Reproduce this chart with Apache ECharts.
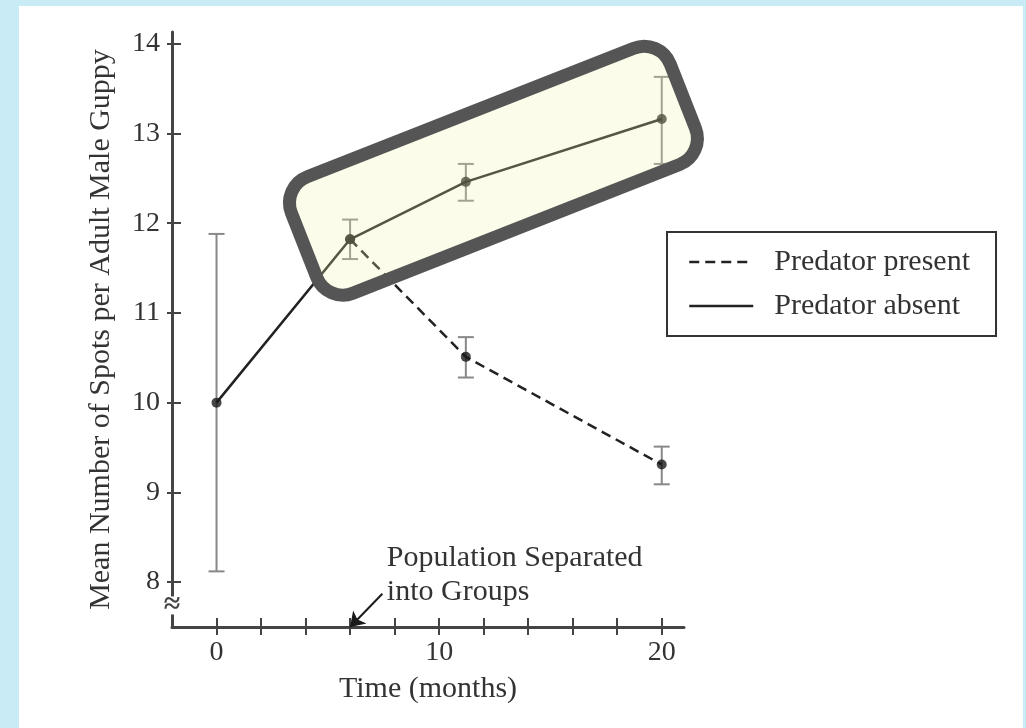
<!doctype html>
<html lang="en">
<head>
    <meta charset="UTF-8">
    <title>Guppy spots</title>
    <style>
        html, body { margin: 0; padding: 0; background: #c8ebf5; }
        #panel { position: absolute; left: 19px; top: 6px; width: 1004px; height: 722px; background: #fff; }
        #chart { position: absolute; left: 0; top: 0; width: 1026px; height: 728px; }
    </style>
</head>
<body>
<div id="panel"></div>
<div id="chart"></div>
<script src="https://cdn.jsdelivr.net/npm/echarts@6/dist/echarts.min.js"></script>
<script>
    // values
    var absentTime = [0, 6, 11.2, 20];
    var absentMean = [10, 11.82, 12.46, 13.16];
    var absentLow = [8.12, 11.60, 12.25, 12.66];
    var absentHigh = [11.88, 12.04, 12.66, 13.63];

    var presentTime = [6, 11.2, 20];
    var presentMean = [11.82, 10.51, 9.31];
    var presentLow = [null, 10.28, 9.09];   // bar at 6 is shared with the other group
    var presentHigh = [null, 10.73, 9.51];

    var yTicks = [8, 9, 10, 11, 12, 13, 14];
    var xTicks = [0, 2, 4, 6, 8, 10, 12, 14, 16, 18, 20];
    var xLabels = [0, 10, 20];

    var serif = '"Liberation Serif", "DejaVu Serif", serif';
    var ink = '#333';

    function pairs(xs, ys) {
        var out = [];
        for (var i = 0; i < xs.length; i++) out.push([xs[i], ys[i]]);
        return out;
    }
    function bars(xs, lo, hi) {
        var out = [];
        for (var i = 0; i < xs.length; i++) {
            if (lo[i] == null) continue;
            out.push([xs[i], lo[i], hi[i]]);
        }
        return out;
    }

    function renderErr(params, api) {
        var x = api.value(0);
        var top = api.coord([x, api.value(2)]);
        var bot = api.coord([x, api.value(1)]);
        var w = 8;
        var st = {stroke: '#888', lineWidth: 2};
        return {
            type: 'group',
            children: [
                {type: 'line', shape: {x1: top[0], y1: top[1], x2: bot[0], y2: bot[1]}, style: st},
                {type: 'line', shape: {x1: top[0] - w, y1: top[1], x2: top[0] + w, y2: top[1]}, style: st},
                {type: 'line', shape: {x1: bot[0] - w, y1: bot[1], x2: bot[0] + w, y2: bot[1]}, style: st}
            ]
        };
    }

    var axisLine = {onZero: false, lineStyle: {color: '#444', width: 3}};
    var chart = echarts.init(document.getElementById('chart'));

    chart.setOption({
        animation: false,
        grid: {left: 172, right: 342, top: 32, bottom: 101},
        legend: {
            orient: 'vertical',
            left: 667,
            top: 232,
            data: ['Predator present', 'Predator absent'],
            itemWidth: 64,
            itemHeight: 14,
            itemGap: 14,
            padding: [15, 26, 15, 21],
            borderColor: '#333',
            borderWidth: 2,
            itemStyle: {opacity: 0},
            lineStyle: {width: 2.5},
            textStyle: {fontFamily: serif, fontSize: 30, color: ink, padding: [0, 0, 0, 16]}
        },
        xAxis: [{
            type: 'value',
            min: -2,
            max: 21,
            name: 'Time (months)',
            nameLocation: 'middle',
            nameGap: 47,
            nameTextStyle: {fontFamily: serif, fontSize: 30, color: ink},
            axisLine: axisLine,
            axisTick: {customValues: xTicks, length: 8, lineStyle: {color: '#444', width: 2}},
            axisLabel: {customValues: xLabels, margin: 12, fontFamily: serif, fontSize: 28, color: ink},
            splitLine: {show: false}
        }, {
            type: 'value',
            position: 'bottom',
            offset: 0,
            min: -2,
            max: 21,
            axisLine: {show: false, onZero: false},
            axisTick: {inside: true, customValues: xTicks, length: 9, lineStyle: {color: '#444', width: 2}},
            axisLabel: {show: false},
            splitLine: {show: false}
        }],
        yAxis: [{
            type: 'value',
            min: 7.5,
            max: 14.13,
            name: 'Mean Number of Spots per Adult Male Guppy',
            nameLocation: 'middle',
            nameGap: 56,
            nameTextStyle: {fontFamily: serif, fontSize: 30, color: ink},
            axisLine: axisLine,
            axisTick: {customValues: yTicks, length: 5, lineStyle: {color: '#444', width: 2}},
            axisLabel: {customValues: yTicks, margin: 12, fontFamily: serif, fontSize: 28, color: ink},
            splitLine: {show: false}
        }, {
            type: 'value',
            position: 'left',
            offset: 0,
            min: 7.5,
            max: 14.13,
            axisLine: {show: false, onZero: false},
            axisTick: {inside: true, customValues: yTicks, length: 9, lineStyle: {color: '#444', width: 2}},
            axisLabel: {show: false},
            splitLine: {show: false}
        }],
        series: [{
            name: 'absentErr',
            type: 'custom',
            renderItem: renderErr,
            data: bars(absentTime, absentLow, absentHigh),
            z: 1
        }, {
            name: 'presentErr',
            type: 'custom',
            renderItem: renderErr,
            data: bars(presentTime, presentLow, presentHigh),
            z: 1
        }, {
            name: 'Predator present',
            type: 'line',
            symbol: 'none',
            data: pairs(presentTime, presentMean),
            lineStyle: {color: '#222', width: 2.5, type: [10, 6]},
            itemStyle: {color: '#222'},
            z: 2
        }, {
            name: 'Predator absent',
            type: 'line',
            symbol: 'none',
            data: pairs(absentTime, absentMean),
            lineStyle: {color: '#222', width: 2.5, type: 'solid'},
            itemStyle: {color: '#222'},
            z: 2
        }, {
            name: 'points',
            type: 'scatter',
            symbolSize: 10,
            itemStyle: {color: '#1a1a1a'},
            data: pairs(absentTime, absentMean).concat(pairs(presentTime, presentMean)),
            z: 3,
            markLine: {
                silent: true,
                symbolSize: 14,
                label: {show: false},
                lineStyle: {color: '#1a1a1a', width: 2, type: 'solid'},
                data: [[
                    {coord: [7.45, 7.87], symbol: 'none'},
                    {coord: [6, 7.5], symbol: 'arrow'}
                ]]
            }
        }]
    });

    // annotations placed from data coordinates
    var brk = chart.convertToPixel({xAxisIndex: 0, yAxisIndex: 0}, [-2, 7.74]);
    var note = chart.convertToPixel({xAxisIndex: 0, yAxisIndex: 0}, [7.65, 8.46]);
    var box = chart.convertToPixel({xAxisIndex: 0, yAxisIndex: 0}, [12.44, 12.585]);
    var bw = 407, bh = 125;

    chart.setOption({
        graphic: [{
            type: 'rect',
            shape: {x: brk[0] - 5, y: brk[1] - 9, width: 10, height: 18},
            style: {fill: '#fff'},
            z: 50
        }, {
            type: 'text',
            x: brk[0],
            y: brk[1],
            style: {text: '≈', font: 'bold 30px ' + serif, fill: '#444', align: 'center', verticalAlign: 'middle'},
            z: 51
        }, {
            type: 'text',
            x: note[0],
            y: note[1],
            style: {
                text: 'Population Separated\ninto Groups',
                font: '30px ' + serif,
                lineHeight: 34,
                fill: ink,
                align: 'left',
                verticalAlign: 'top'
            },
            z: 50
        }, {
            type: 'rect',
            x: box[0],
            y: box[1],
            rotation: 21.5 * Math.PI / 180,
            shape: {x: -bw / 2, y: -bh / 2, width: bw, height: bh, r: 28},
            style: {fill: 'rgba(245,245,170,0.25)', stroke: '#555', lineWidth: 13},
            z: 100
        }]
    });
</script>
</body>
</html>
